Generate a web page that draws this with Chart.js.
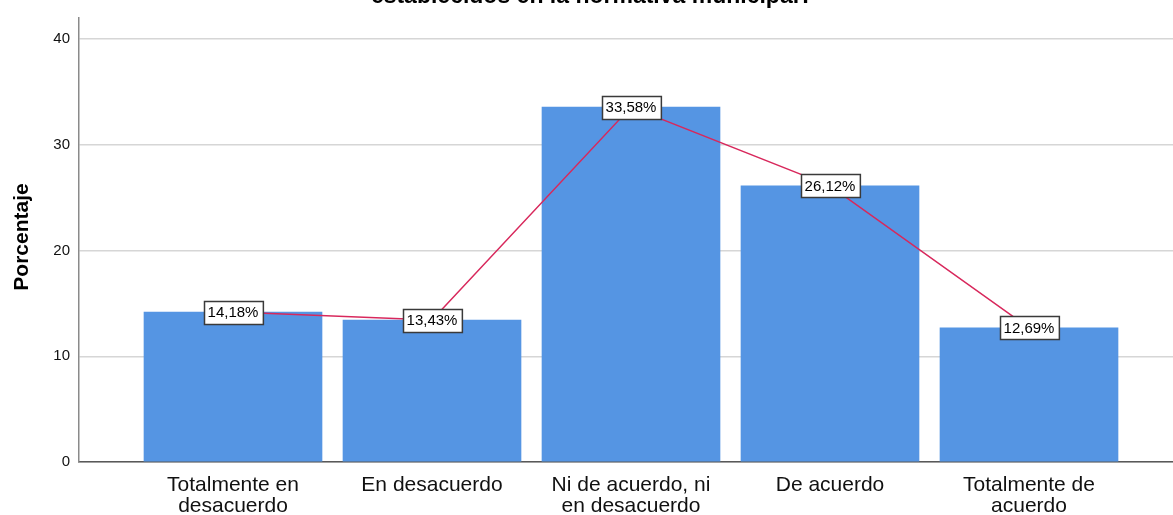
<!DOCTYPE html>
<html>
<head>
<meta charset="utf-8">
<script src="https://cdn.jsdelivr.net/npm/chart.js@4/dist/chart.umd.min.js"></script>
<style>
  html, body { margin: 0; padding: 0; background: #fff; }
  #wrap { width: 1173px; height: 515px; position: relative; }
</style>
</head>
<body>
<div id="wrap"><canvas id="c" width="1173" height="515"></canvas></div>
<script>
const categories = [
  ['Totalmente en', 'desacuerdo'],
  ['En desacuerdo'],
  ['Ni de acuerdo, ni', 'en desacuerdo'],
  ['De acuerdo'],
  ['Totalmente de', 'acuerdo']
];
const percentages = [14.18, 13.43, 33.58, 26.12, 12.69];
const valueLabels = ['14,18%', '13,43%', '33,58%', '26,12%', '12,69%'];
const yTicks = [0, 10, 20, 30, 40];
const titleText = 'establecidos en la normativa municipal?';
const yTitle = 'Porcentaje';

const points = percentages.map((v, i) => ({ x: i, y: v }));

const overlay = {
  id: 'overlay',
  afterDatasetsDraw(chart) {
    const ctx = chart.ctx;
    const meta = chart.getDatasetMeta(1);
    ctx.save();
    ctx.font = '15px "Liberation Sans", Arial, sans-serif';
    ctx.textAlign = 'center';
    ctx.textBaseline = 'middle';
    meta.data.forEach((pt, i) => {
      const t = valueLabels[i];
      const w = ctx.measureText(t).width + 8;
      const h = 23;
      const x = Math.round(pt.x - w / 2) + 0.5;
      const y = Math.round(pt.y - h / 2) + 0.5;
      ctx.fillStyle = '#ffffff';
      ctx.fillRect(x, y, w, h);
      ctx.strokeStyle = '#3a3a3a';
      ctx.lineWidth = 1.5;
      ctx.strokeRect(x, y, w, h);
      ctx.fillStyle = '#000000';
      ctx.fillText(t, pt.x, pt.y + 1);
    });
    ctx.restore();
  },
  afterDraw(chart) {
    const ctx = chart.ctx;
    ctx.save();
    ctx.fillStyle = '#000';
    ctx.font = 'bold 23px "Liberation Sans", Arial, sans-serif';
    ctx.textAlign = 'center';
    ctx.textBaseline = 'alphabetic';
    ctx.fillText(titleText, 592, 3);
    ctx.translate(22, 237);
    ctx.rotate(-Math.PI / 2);
    ctx.font = 'bold 21px "Liberation Sans", Arial, sans-serif';
    ctx.textBaseline = 'middle';
    ctx.fillText(yTitle, 0, 0);
    ctx.restore();
  }
};

new Chart(document.getElementById('c'), {
  data: {
    datasets: [
      {
        type: 'bar',
        data: points,
        backgroundColor: '#5595e3',
        borderWidth: 0,
        barThickness: 178,
        order: 2
      },
      {
        type: 'line',
        data: points,
        borderColor: '#d8285c',
        borderWidth: 1.5,
        pointRadius: 0,
        tension: 0,
        fill: false,
        order: 1
      }
    ]
  },
  options: {
    responsive: false,
    animation: false,
    events: [],
    layout: { padding: { left: 0, right: 0, top: 15, bottom: 0 } },
    plugins: { legend: { display: false }, tooltip: { enabled: false }, title: { display: false } },
    scales: {
      x: {
        type: 'linear',
        offset: false,
        min: (79 - 233) / 199,
        max: (1173 - 233) / 199,
        afterBuildTicks(scale) {
          scale.ticks = categories.map((c, i) => ({ value: i }));
        },
        afterFit(scale) { scale.height = 53; },
        grid: { display: false, drawTicks: false, offset: false },
        border: { display: true, color: '#595959', width: 1.5 },
        ticks: {
          autoSkip: false,
          maxRotation: 0,
          padding: 13,
          color: '#111',
          font: { family: '"Liberation Sans", Arial, sans-serif', size: 21, lineHeight: 0.98 },
          callback: (v) => categories[v]
        }
      },
      y: {
        min: 0,
        max: 42,
        afterBuildTicks(scale) {
          scale.ticks = yTicks.map(v => ({ value: v }));
        },
        afterFit(scale) { scale.width = 79; },
        grid: { color: '#d6d6d6', lineWidth: 1.5, drawTicks: false },
        border: { display: true, color: '#8a8a8a', width: 1.5 },
        ticks: {
          padding: 9,
          color: '#111',
          font: { family: '"Liberation Sans", Arial, sans-serif', size: 15 }
        }
      }
    }
  },
  plugins: [overlay]
});
</script>
</body>
</html>
